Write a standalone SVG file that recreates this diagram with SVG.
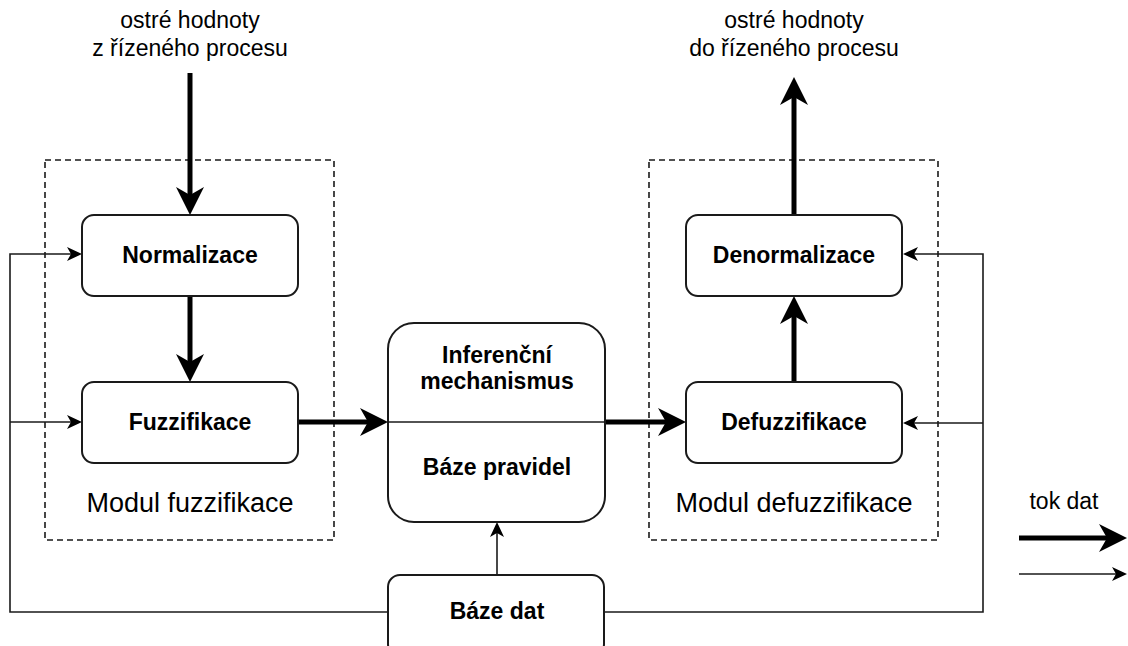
<svg xmlns="http://www.w3.org/2000/svg" width="1128" height="646" viewBox="0 0 1128 646">
<style>
.box{fill:#fff;stroke:#1a1a1a;stroke-width:2}
.dash{fill:none;stroke:#1a1a1a;stroke-width:1.6;stroke-dasharray:6 4}
.t{font-family:"Liberation Sans",Arial,sans-serif;fill:#000;text-anchor:middle}
.b{font-weight:bold;font-size:23px}
.n{font-size:23px}
.m{font-size:27px}
.thick{fill:none;stroke:#000;stroke-width:5}
.thin{fill:none;stroke:#1a1a1a;stroke-width:1.6}
</style>
<defs>
<marker id="ah" markerUnits="userSpaceOnUse" markerWidth="28" markerHeight="28" viewBox="0 0 28 28" refX="8" refY="14" orient="auto">
<path d="M0,0 L28,14 L0,28 L8,14 Z" fill="#000"/>
</marker>
<marker id="as" markerUnits="userSpaceOnUse" markerWidth="15" markerHeight="14" viewBox="0 0 15 14" refX="4" refY="7" orient="auto">
<path d="M0,0 L15,7 L0,14 L4,7 Z" fill="#000"/>
</marker>
</defs>

<g id="modules">
<rect class="dash" x="45" y="160" width="289" height="380"/>
<rect class="dash" x="649" y="160" width="289" height="380"/>
<text class="t m" x="190" y="512">Modul fuzzifikace</text>
<text class="t m" x="794" y="512">Modul defuzzifikace</text>
</g>

<g id="connectors">
<path class="thick" d="M190,73 V195" marker-end="url(#ah)"/>
<path class="thick" d="M190,296 V362" marker-end="url(#ah)"/>
<path class="thick" d="M298,422 H368" marker-end="url(#ah)"/>
<path class="thick" d="M605,422 H666" marker-end="url(#ah)"/>
<path class="thick" d="M794,382 V316" marker-end="url(#ah)"/>
<path class="thick" d="M794,215 V97" marker-end="url(#ah)"/>
<path class="thin" d="M497,575 V533" marker-end="url(#as)"/>
<path class="thin" d="M388,612 H10 V254 H71" marker-end="url(#as)"/>
<path class="thin" d="M10,422 H71" marker-end="url(#as)"/>
<path class="thin" d="M604,612 H983 V254 H914" marker-end="url(#as)"/>
<path class="thin" d="M983,423 H914" marker-end="url(#as)"/>
</g>

<g id="input-label">
<text class="t n" x="190" y="28">ostré hodnoty</text>
<text class="t n" x="190" y="56">z řízeného procesu</text>
</g>
<g id="output-label">
<text class="t n" x="794" y="28">ostré hodnoty</text>
<text class="t n" x="794" y="56">do řízeného procesu</text>
</g>

<g id="normalizace">
<rect class="box" x="82" y="215" width="216" height="81" rx="12"/>
<text class="t b" x="190" y="263">Normalizace</text>
</g>
<g id="fuzzifikace">
<rect class="box" x="82" y="382" width="216" height="81" rx="12"/>
<text class="t b" x="190" y="430">Fuzzifikace</text>
</g>
<g id="inference">
<rect class="box" x="388" y="323" width="217" height="199" rx="26"/>
<line x1="388" y1="422" x2="605" y2="422" stroke="#1a1a1a" stroke-width="1.6"/>
<text class="t b" x="497" y="363">Inferenční</text>
<text class="t b" x="497" y="389">mechanismus</text>
<text class="t b" x="497" y="475">Báze pravidel</text>
</g>
<g id="baze-dat">
<rect class="box" x="388" y="575" width="216" height="81" rx="12"/>
<text class="t b" x="497" y="619">Báze dat</text>
</g>
<g id="denormalizace">
<rect class="box" x="686" y="215" width="216" height="81" rx="12"/>
<text class="t b" x="794" y="263">Denormalizace</text>
</g>
<g id="defuzzifikace">
<rect class="box" x="686" y="382" width="216" height="81" rx="12"/>
<text class="t b" x="794" y="430">Defuzzifikace</text>
</g>

<g id="legend">
<text class="t n" x="1064" y="509">tok dat</text>
<path class="thick" d="M1019,538 H1107" marker-end="url(#ah)"/>
<path class="thin" d="M1019,574 H1116" marker-end="url(#as)"/>
</g>
</svg>
